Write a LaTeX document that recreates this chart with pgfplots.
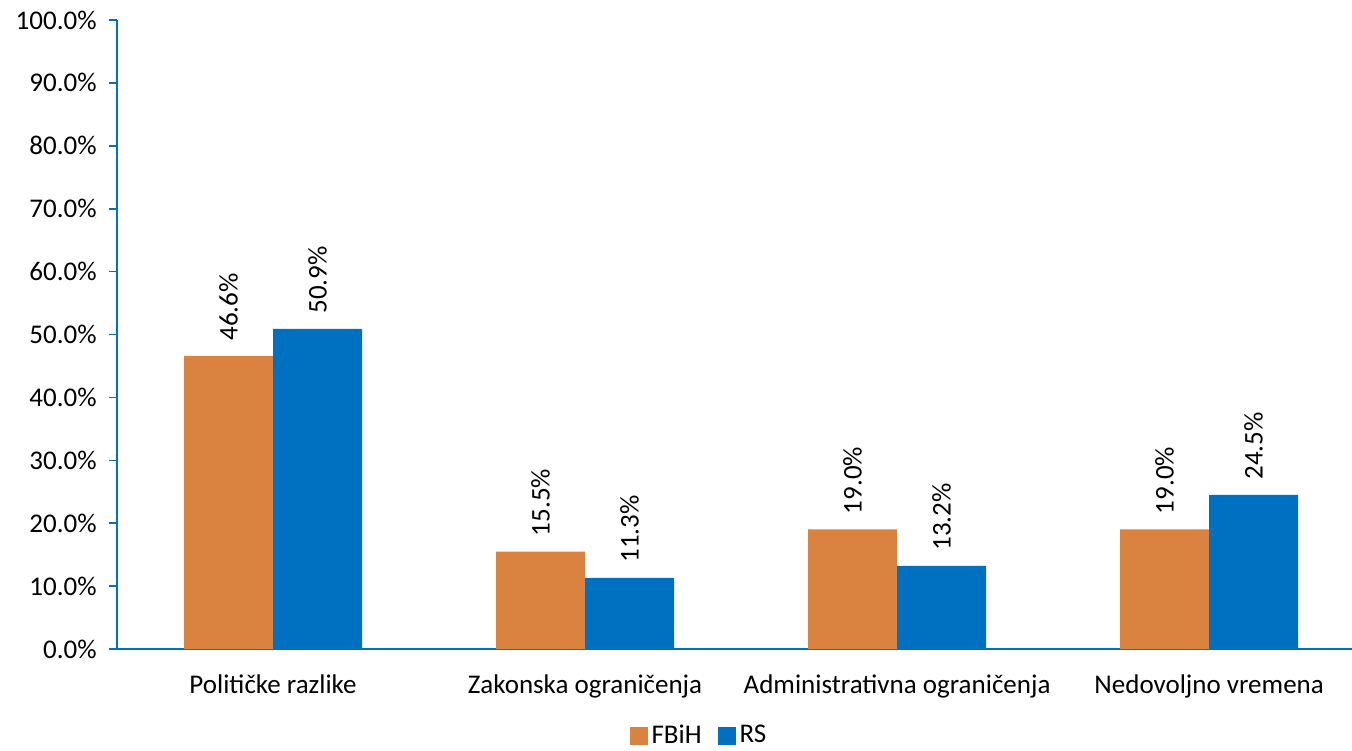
\documentclass[border=0pt]{standalone}
\usepackage{pgfplots}
\pgfplotsset{compat=1.18}
\usepackage{fontspec}
\setmainfont{Carlito}
\definecolor{fbih}{HTML}{DA8240}
\definecolor{rs}{HTML}{0070C0}
\newcommand{\chartfont}{\fontsize{13.5}{16}\selectfont}
\begin{document}
\chartfont
\begin{tikzpicture}
\begin{axis}[
  scale only axis,
  width=617.5pt,
  height=314.5pt,
  ybar=0pt,
  bar width=44.5pt,
  xmin=-0.5, xmax=3.458,
  ymin=0, ymax=100,
  ytick={0,10,...,100},
  yticklabel={\pgfmathprintnumber[fixed,fixed zerofill,precision=1]{\tick}\%},
  yticklabel style={/pgf/number format/assume math mode=true, font=\chartfont, xshift=-1.5pt},
  xtick={0,1,2,3},
  xticklabels={Političke razlike,Zakonska ograničenja,Administrativna ograničenja,Nedovoljno vremena},
  xticklabel style={font=\chartfont, yshift=-4pt},
  major x tick style={draw=none},
  extra x ticks={-0.5,0.5,1.5,2.5},
  extra x tick labels={},
  extra x tick style={major tick length=4pt, tick style={draw=rs, line width=0.8pt}},
  tick align=outside,
  major tick length=4pt,
  tick style={draw=rs, line width=0.8pt},
  axis x line*=bottom,
  axis y line*=left,
  axis line style={draw=rs, line width=0.8pt, -},
  xtick pos=bottom, ytick pos=left,
  nodes near coords={\pgfmathprintnumber[fixed,fixed zerofill,precision=1]{\pgfplotspointmeta}\%},
  nodes near coords style={rotate=90, anchor=west, font=\chartfont, /pgf/number format/assume math mode=true, xshift=3pt},
  legend columns=2,
  legend style={draw=none, at={(0.472,-0.138)}, anchor=center, font=\chartfont, /tikz/every even column/.append style={column sep=6pt}},
  legend image code/.code={\fill[#1] (0pt,-4.5pt) rectangle (9pt,4.5pt);},
]
\addplot[fill=fbih, draw=none] coordinates {(0,46.6) (1,15.5) (2,19.0) (3,19.0)};
\addplot[fill=rs, draw=none] coordinates {(0,50.9) (1,11.3) (2,13.2) (3,24.5)};
\legend{FBiH,RS}
\end{axis}
\pgfresetboundingbox
\path (-58.5pt,-50.5pt) rectangle (617.5pt,324.5pt);
\end{tikzpicture}
\end{document}
